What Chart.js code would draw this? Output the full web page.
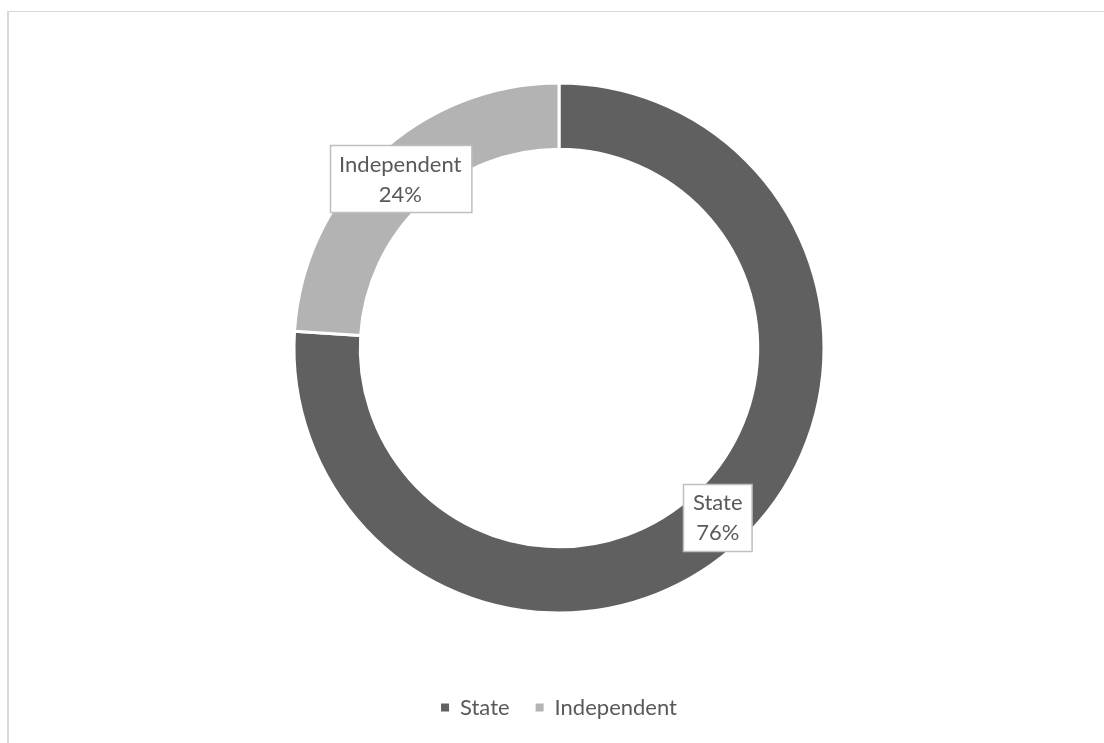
<!DOCTYPE html>
<html>
<head>
<meta charset="utf-8">
<script src="https://cdn.jsdelivr.net/npm/chart.js@4"></script>
<style>
  html, body { margin: 0; padding: 0; background: #fff; overflow: hidden; }
  #frame { position: absolute; left: 7px; top: 11px; width: 1110px; height: 740px;
           border-left: 2px solid #d9d9d9; border-top: 1px solid #d9d9d9; box-sizing: border-box; }
  #wrap { position: absolute; left: 0; top: 0; width: 1104px; height: 743px; }
</style>
</head>
<body>
<div id="frame"></div>
<div id="wrap"><canvas id="c" width="1104" height="743"></canvas></div>
<script>
const categories = ["State", "Independent"];
const values = [76, 24];
const percentLabels = ["76%", "24%"];
const colors = ["#606060", "#b3b3b3"];

const FONT = "Lato, 'Open Sans', sans-serif";
const TEXT = "#595959";

const labelPlugin = {
  id: "boxLabels",
  afterDatasetsDraw(chart) {
    const ctx = chart.ctx;
    const meta = chart.getDatasetMeta(0);
    ctx.save();
    ctx.font = "22px " + FONT;
    ctx.textAlign = "center";
    ctx.textBaseline = "middle";
    meta.data.forEach((arc, i) => {
      const p = arc.tooltipPosition();
      const l1 = categories[i], l2 = percentLabels[i];
      const w = Math.max(ctx.measureText(l1).width, ctx.measureText(l2).width) + 19;
      const h = 67;
      const x = Math.round(p.x - w / 2) + 0.5, y = Math.round(p.y - h / 2) + 0.5;
      ctx.fillStyle = "#ffffff";
      ctx.fillRect(x, y, w, h);
      ctx.strokeStyle = "#bfbfbf";
      ctx.lineWidth = 1.5;
      ctx.strokeRect(x, y, w, h);
      ctx.fillStyle = TEXT;
      ctx.fillText(l1, p.x, p.y - 14);
      ctx.fillText(l2, p.x, p.y + 16);
    });
    ctx.restore();
  }
};

new Chart(document.getElementById("c"), {
  type: "doughnut",
  data: {
    labels: categories,
    datasets: [{
      data: values,
      backgroundColor: colors,
      borderColor: "#ffffff",
      borderWidth: 3,
      radius: 265,
      hoverOffset: 0
    }]
  },
  options: {
    responsive: false,
    animation: false,
    cutout: "75%",
    layout: { padding: { left: 14, right: 0, top: 25.5, bottom: 14.5 } },
    plugins: {
      tooltip: { enabled: false },
      legend: {
        position: "bottom",
        labels: {
          boxWidth: 8, boxHeight: 8, padding: 26,
          color: TEXT,
          font: { family: FONT, size: 22 },
          generateLabels(chart) {
            return categories.map((c, i) => ({
              text: c,
              fillStyle: colors[i],
              strokeStyle: colors[i],
              lineWidth: 0,
              fontColor: TEXT,
              hidden: false,
              index: i
            }));
          }
        }
      }
    }
  },
  plugins: [labelPlugin]
});
</script>
</body>
</html>
